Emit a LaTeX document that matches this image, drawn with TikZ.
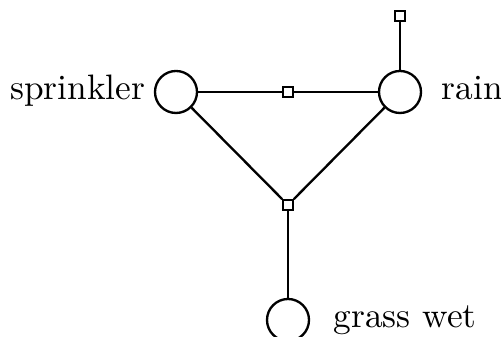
\documentclass[tikz,border=0pt]{standalone}
\begin{document}
\begin{tikzpicture}[x=0.3pt,y=-0.3pt,
  var/.style={circle,draw,line width=0.7pt,minimum size=12.6pt,inner sep=0pt},
  fac/.style={rectangle,draw,line width=0.5pt,fill=white,minimum size=3pt,inner sep=0pt},
  lbl/.style={font=\fontsize{10.6}{12}\selectfont,inner sep=0pt},
  edge/.style={line width=0.7pt}]
\useasboundingbox (0,0) rectangle (501,337);
\clip (0,0) rectangle (501,337);
\node[var] (s) at (176,92) {};
\node[var] (r) at (400,92) {};
\node[var] (g) at (288,320) {};
\node[fac] (f1) at (288,92) {};
\node[fac] (f0) at (400,16) {};
\node[fac] (f2) at (288,205) {};
\draw[edge] (s) -- (f1) -- (r);
\draw[edge] (r) -- (f0);
\draw[edge] (s) -- (f2);
\draw[edge] (r) -- (f2);
\draw[edge] (f2) -- (g);
\node[lbl,anchor=base east] (ls) at (146,100) {sprinkler};
\node[lbl,anchor=base west] (lr) at (441,100) {rain};
\node[lbl,anchor=base west] (lg) at (333,328) {grass wet};
\end{tikzpicture}
\end{document}
